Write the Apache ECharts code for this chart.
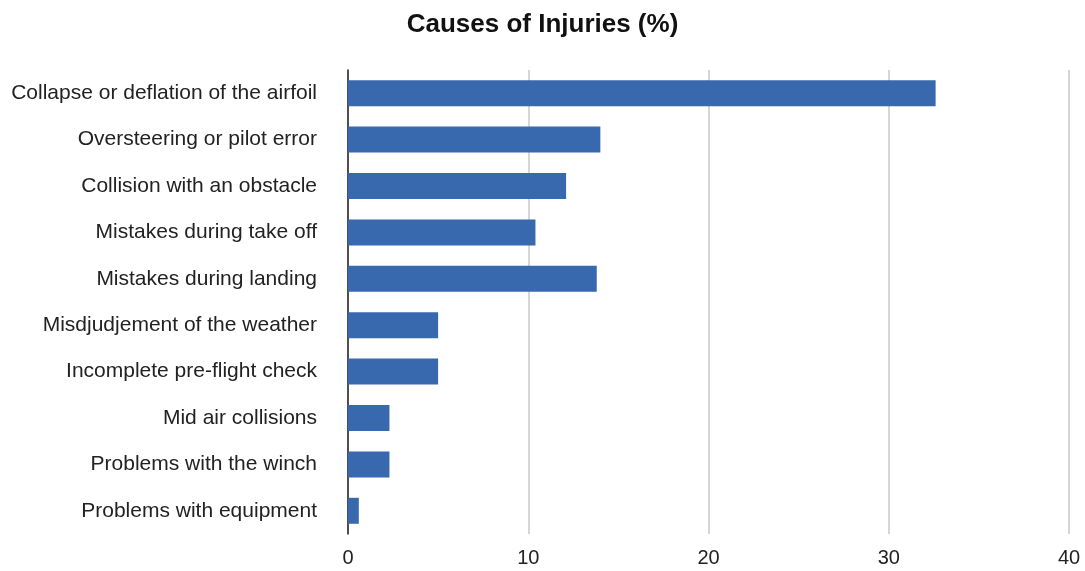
<!DOCTYPE html>
<html><head><meta charset="utf-8">
<script src="https://cdn.jsdelivr.net/npm/echarts@6/dist/echarts.min.js"></script>
<style>html,body{margin:0;padding:0;background:#fff}#c{width:1085px;height:571px}</style>
</head><body><div id="c"></div>
<script>
const categories = ["Collapse or deflation of the airfoil","Oversteering or pilot error","Collision with an obstacle","Mistakes during take off","Mistakes during landing","Misdjudjement of the weather","Incomplete pre-flight check","Mid air collisions","Problems with the winch","Problems with equipment"];
const values = [32.6, 14.0, 12.1, 10.4, 13.8, 5.0, 5.0, 2.3, 2.3, 0.6];
const xTicks = [0, 10, 20, 30, 40];

const chart = echarts.init(document.getElementById('c'));
chart.setOption({
  animation: false,
  textStyle: {fontFamily: 'Liberation Sans, Arial, sans-serif'},
  title: {text: 'Causes of Injuries (%)', left: 'center', top: 7,
    textStyle: {fontSize: 26, fontWeight: 'bold', color: '#111', fontFamily: 'Liberation Sans, Arial, sans-serif'}},
  grid: {left: 348, right: 16, top: 70, bottom: 37, containLabel: false},
  xAxis: {type: 'value', min: xTicks[0], max: xTicks[xTicks.length-1], interval: 10,
    axisLine: {show: false}, axisTick: {show: false},
    splitLine: {show: true, lineStyle: {color: '#c8c8c8', width: 1.5}},
    axisLabel: {fontSize: 20, color: '#222', margin: 14}},
  yAxis: {type: 'category', data: categories, inverse: true,
    axisLine: {show: true, lineStyle: {color: '#222', width: 1.5}},
    axisTick: {show: false},
    axisLabel: {fontSize: 21, color: '#222', margin: 31}},
  series: [{type: 'bar', data: values, barWidth: '56%',
    itemStyle: {color: '#3869AE'}}]
});
</script></body></html>
